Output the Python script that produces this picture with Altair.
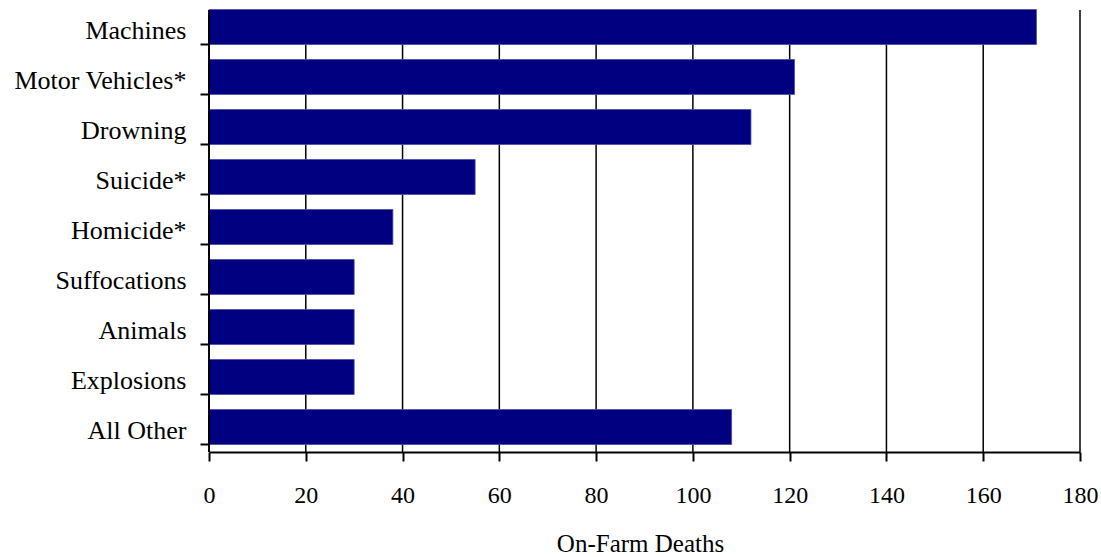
import altair as alt
import pandas as pd

# On-farm deaths by cause
causes = ["Machines", "Motor Vehicles*", "Drowning", "Suicide*", "Homicide*",
          "Suffocations", "Animals", "Explosions", "All Other"]
deaths = [171, 121, 112, 55, 38, 30, 30, 30, 108]
x_ticks = [0, 20, 40, 60, 80, 100, 120, 140, 160, 180]

bars_df = pd.DataFrame({"cause": causes, "deaths": deaths})
grid_df = pd.DataFrame({"tick": x_ticks})
line_df = pd.DataFrame({"k": [0]})

FONT = "'Liberation Serif', 'Times New Roman', Times, serif"
W, H = 871, 450

x_scale = alt.Scale(domain=[0, 180], nice=False)
x_axis = alt.Axis(
    values=x_ticks, title="On-Farm Deaths", grid=False, format="d",
    domainColor="black", domainWidth=2,
    tickColor="black", tickWidth=2, tickSize=9,
    labelFont=FONT, labelFontSize=24, labelColor="black", labelPadding=22,
    labelFlush=False,
    titleFont=FONT, titleFontSize=25, titleFontWeight="normal",
    titleColor="black", titleBaseline="alphabetic", titleAlign="center",
    titleX=431, titleY=99,
)
y_axis = alt.Axis(
    title=None, domain=False, grid=False, bandPosition=1,
    tickColor="black", tickWidth=2, tickSize=9,
    labelFont=FONT, labelFontSize=26, labelColor="black",
    labelPadding=14, labelOffset=4,
)

# vertical gridlines, behind the bars
grid = alt.Chart(grid_df).mark_rule(color="black", strokeWidth=1.5).encode(
    x=alt.X("tick:Q", scale=x_scale, axis=x_axis),
    y=alt.value(8),
    y2=alt.value(H),
)

bars = alt.Chart(bars_df).mark_bar(
    color="#000080", stroke="#4b4ba6", strokeWidth=0.8
).encode(
    x=alt.X("deaths:Q", scale=x_scale, axis=x_axis),
    y=alt.Y("cause:N", sort=causes,
            scale=alt.Scale(paddingInner=0.3, paddingOuter=0.15),
            axis=y_axis),
)

# left axis line
y_line = alt.Chart(line_df).mark_rule(color="black", strokeWidth=2).encode(
    x=alt.value(0),
    y=alt.value(8),
    y2=alt.value(H),
)

chart = alt.layer(grid, bars, y_line).properties(
    width=W,
    height=H,
    autosize=alt.AutoSizeParams(type="none"),
    padding={"left": 209, "top": 2, "right": 21, "bottom": 105},
).configure_view(stroke=None)

chart.save("out.html", embed_options={"renderer": "svg", "actions": False})
